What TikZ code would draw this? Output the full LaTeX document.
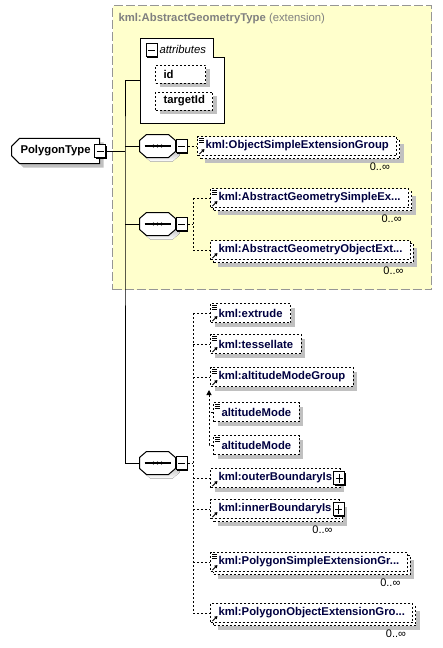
\documentclass[tikz,border=0pt]{standalone}
\usepackage{fontspec}
\setmainfont{Liberation Sans}
\usetikzlibrary{arrows.meta,positioning,shapes.misc,shadows}
\definecolor{extfill}{RGB}{255,255,204}
\definecolor{extline}{RGB}{150,150,150}
\definecolor{exttext}{RGB}{128,128,128}
\definecolor{elname}{RGB}{0,0,64}
\definecolor{shade}{RGB}{192,192,192}
\newcommand{\lsticon}{\draw[solid, line width=0.7pt] ([xshift=1.5pt,yshift=-1.5pt]path picture bounding box.north west) -- ++(5pt,0pt) ++(-5pt,-2pt) -- ++(5pt,0pt) ++(-5pt,-2pt) -- ++(5pt,0pt);}
\newcommand{\reficon}{\draw[solid, line width=0.8pt, -{Triangle[length=3pt,width=3.5pt]}] ([xshift=2pt,yshift=1.5pt]path picture bounding box.south west) -- ++(5pt,5pt);}
% octagon of a sequence compositor, drawn round a plain node
\newcommand{\seqmark}[1]{%
  \fill[shade, transform canvas={shift={(4pt,-4pt)}}] ([xshift=7pt]#1.north west) -- ([xshift=-7pt]#1.north east) -- ([yshift=-6pt]#1.north east) -- ([yshift=6pt]#1.south east) -- ([xshift=-7pt]#1.south east) -- ([xshift=7pt]#1.south west) -- ([yshift=6pt]#1.south west) -- ([yshift=-6pt]#1.north west) -- cycle;
  \draw[solid, fill=white] ([xshift=7pt]#1.north west) -- ([xshift=-7pt]#1.north east) -- ([yshift=-6pt]#1.north east) -- ([yshift=6pt]#1.south east) -- ([xshift=-7pt]#1.south east) -- ([xshift=7pt]#1.south west) -- ([yshift=6pt]#1.south west) -- ([yshift=-6pt]#1.north west) -- cycle;
  \draw[solid, line width=1.5pt] ([xshift=5pt]#1.west) -- ([xshift=-5pt]#1.east);
  \fill (#1.center) circle (1.7pt) ++(-4pt,0pt) circle (1.7pt) ++(8pt,0pt) circle (1.7pt);}

\begin{document}
\begin{tikzpicture}[x=1pt, y=-1pt, >=Latex, line width=1pt, font=\fontsize{11.3}{13}\selectfont\bfseries]
\tikzstyle{elem}=[rectangle, draw, fill=white, dash pattern=on 2pt off 2pt, minimum height=19pt, inner xsep=8pt, inner ysep=2pt, anchor=west, text=elname]
\tikzstyle{one}=[elem, drop shadow={shadow xshift=4pt, shadow yshift=-4pt, fill=shade, opacity=1, draw=none, path picture={}}]
\tikzstyle{many}=[elem, drop shadow={shadow xshift=7pt, shadow yshift=-7pt, fill=shade, opacity=1, draw=none, path picture={}}, copy shadow={shadow xshift=3pt, shadow yshift=-3pt, path picture={}}]
\tikzstyle{lst}=[path picture={\lsticon}]
\tikzstyle{ref}=[path picture={\reficon}]
\tikzstyle{lstref}=[path picture={\lsticon\reficon}]
\tikzstyle{seq}=[rectangle, minimum width=35pt, minimum height=22pt, inner sep=0pt, append after command={\pgfextra{\seqmark{\tikzlastnode}}}]
\tikzstyle{tog}=[rectangle, draw, solid, fill=white, minimum width=11pt, minimum height=13pt, inner sep=0pt, drop shadow={shadow xshift=1pt, shadow yshift=-1pt, fill=black, opacity=1, path picture={}}]
\tikzstyle{minus}=[tog, path picture={\draw[line width=1pt] ([xshift=2pt]path picture bounding box.west) -- ([xshift=-2pt]path picture bounding box.east);}]
\tikzstyle{plus}=[tog, path picture={\draw[line width=1pt] ([xshift=2pt]path picture bounding box.west) -- ([xshift=-2pt]path picture bounding box.east) ([yshift=2pt]path picture bounding box.south) -- ([yshift=-2pt]path picture bounding box.north);}]
\tikzstyle{mult}=[inner sep=0pt, font=\fontsize{11}{13}\selectfont\mdseries]
\tikzstyle{dsh}=[dash pattern=on 2pt off 2pt]
\useasboundingbox (0,0) rectangle (442,648);

% extension frame
\node[draw=extline, fill=extfill, line width=1.3pt, dash pattern=on 9pt off 3pt, anchor=north west, minimum width=319pt, minimum height=284pt] (ext) at (112,5) {};
\node[anchor=west, text=exttext, inner sep=0pt] (exttl) at (118,19) {kml:AbstractGeometryType \mdseries(extension)};

% attributes
\draw[fill=white] (140,38) -- (213,38) -- (213,57) -- (224,57) -- (224,123) -- (140,123) -- cycle;
\coordinate (attr) at (140,80);
\node[minus] (attm) at (151.5,50) {};
\node[anchor=west, inner sep=0pt, font=\fontsize{11.3}{13}\selectfont\itshape] (attl) at (159,49) {attributes};
\node[one, text=black, text width=34pt, minimum height=18pt] (id) at (155,74) {id};
\node[one, text=black, text width=41pt, minimum height=18pt] (tid) at (155,101) {targetId};

% type and compositors
\node[chamfered rectangle, chamfered rectangle corners={north west,south west}, chamfered rectangle xsep=4pt, chamfered rectangle ysep=4pt, draw, fill=white, anchor=west, minimum height=19pt, inner xsep=5pt, drop shadow={shadow xshift=4pt, shadow yshift=-4pt, fill=shade, opacity=1, draw=none}] (pt) at (11,151) {PolygonType\hspace{6pt}};
\node[minus] (ptm) at (pt.east) {};
\coordinate (tr) at (125,151);

\node[seq] (s1) at (157.5,146) {};
\node[minus, right=0pt of s1] (s1m) {};
\node[seq] (s2) at (157.5,224) {};
\node[minus, right=0pt of s2] (s2m) {};
\node[seq] (s3) at (157.5,463) {};
\node[minus, right=0pt of s3] (s3m) {};
\coordinate (br2) at (193,224);
\coordinate (br3) at (193,463);

% elements
\node[many, lstref] (osg) at (197,146) {kml:ObjectSimpleExtensionGroup};
\node[mult, below left=6pt and 7pt of osg.south east] (osgn) {0..∞};
\node[many, lstref] (agse) at (210,198) {kml:AbstractGeometrySimpleEx...};
\node[mult, below left=6pt and 7pt of agse.south east] (agsen) {0..∞};
\node[many, ref] (agoe) at (210,250) {kml:AbstractGeometryObjectExt...};
\node[mult, below left=6pt and 7pt of agoe.south east] (agoen) {0..∞};

\node[one, lstref] (extr) at (210,313) {kml:extrude};
\node[one, lstref] (tess) at (210,344) {kml:tessellate};
\node[one, lstref] (amg) at (210,377) {kml:altitudeModeGroup};
\node[one, lst] (am1) at (213,412) {altitudeMode};
\node[one, lst] (am2) at (213,445) {altitudeMode};
\coordinate (amtip) at (209,390);
\node[one, ref] (obi) at (210,478) {kml:outerBoundaryIs\hspace{12pt}};
\node[plus] (obip) at ([xshift=-1.5pt]obi.east) {};
\node[many, ref] (ibi) at (210,509) {kml:innerBoundaryIs\hspace{12pt}};
\node[plus] (ibip) at ([xshift=-1.5pt]ibi.east) {};
\node[mult, below left=6pt and 7pt of ibi.south east] (ibin) {0..∞};
\node[many, lstref] (pseg) at (210,562) {kml:PolygonSimpleExtensionGr...};
\node[mult, below left=6pt and 7pt of pseg.south east] (psegn) {0..∞};
\node[many, ref] (poeg) at (210,613) {kml:PolygonObjectExtensionGro...};
\node[mult, below left=6pt and 7pt of poeg.south east] (poegn) {0..∞};

% connectors
\draw (ptm.east) -- (tr);
\draw (attr) -| (tr) |- (s3.west);
\draw (tr |- s1.west) -- (s1.west);
\draw (tr |- s2.west) -- (s2.west);
\draw[dsh] (s1m.east) -- (osg.west);
\draw[dsh] (s2m.east) -- (br2);
\draw[dsh] (br2 |- agse.west) -- (br2 |- agoe.west);
\draw[dsh] (br2 |- agse.west) -- (agse.west);
\draw[dsh] (br2 |- agoe.west) -- (agoe.west);
\draw[dsh] (s3m.east) -- (br3);
\draw[dsh] (br3 |- extr.west) -- (br3 |- poeg.west);
\draw[dsh] (br3 |- extr.west) -- (extr.west);
\draw[dsh] (br3 |- tess.west) -- (tess.west);
\draw[dsh] (br3 |- amg.west) -- (amg.west);
\draw[dsh] (br3 |- obi.west) -- (obi.west);
\draw[dsh] (br3 |- ibi.west) -- (ibi.west);
\draw[dsh] (br3 |- pseg.west) -- (pseg.west);
\draw[dsh] (br3 |- poeg.west) -- (poeg.west);
\draw[dsh, -{Triangle[length=5pt,width=5pt]}] (am2.west) -| (amtip);
\draw[dsh] (am1.west) -- (am1.west -| amtip);
\end{tikzpicture}
\end{document}
